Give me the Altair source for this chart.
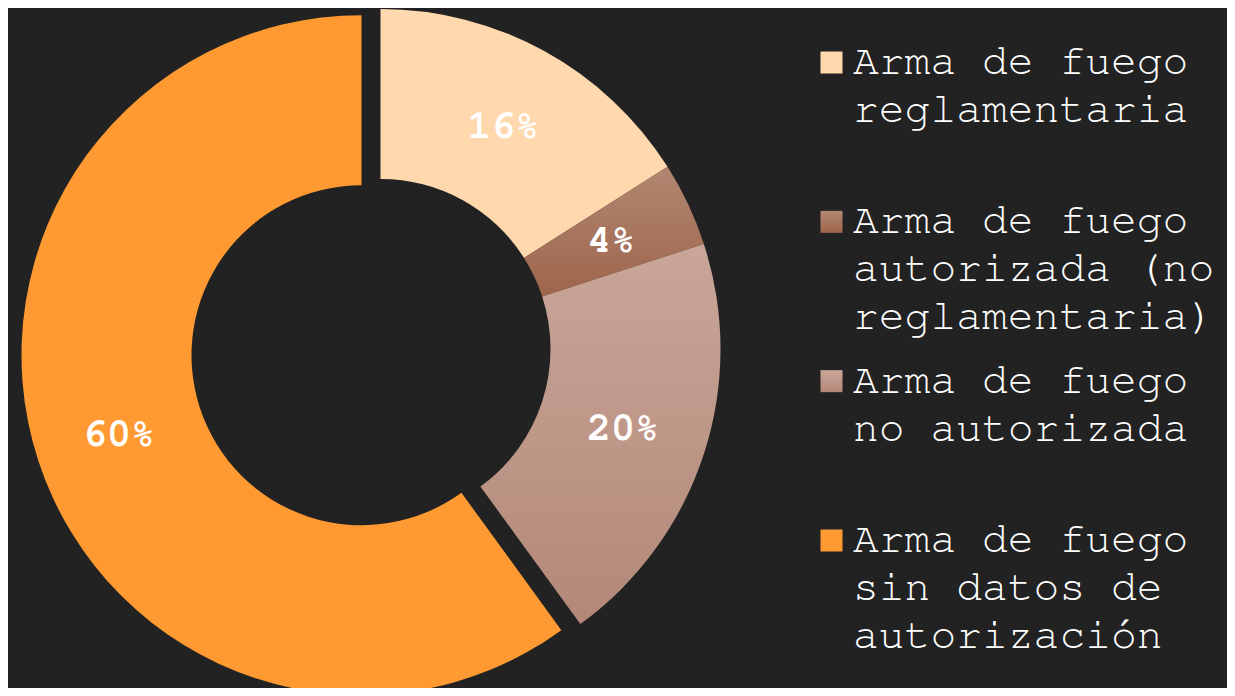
import altair as alt
import pandas as pd

# ---- data ----
categories = [
    "Arma de fuego reglamentaria",
    "Arma de fuego autorizada (no reglamentaria)",
    "Arma de fuego no autorizada",
    "Arma de fuego sin datos de autorización",
]
legend_labels = [
    "Arma de fuego\nreglamentaria",
    "Arma de fuego\nautorizada (no\nreglamentaria)",
    "Arma de fuego\nno autorizada",
    "Arma de fuego\nsin datos de\nautorización",
]
values = [16, 4, 20, 60]
order = [0, 1, 2, 3]

colors = ["#FFD8AD", "#A9765E", "#BF998A", "#FF9A33"]

df = pd.DataFrame({"cat": categories, "label": legend_labels, "value": values, "order": order})

BG = "#222222"
FONT = "'Nimbus Mono PS', 'Nimbus Mono L', FreeMono, 'Courier New', Courier, 'Liberation Mono', monospace"

grad_auth = {
    "gradient": "linear", "x1": 0, "y1": 0, "x2": 0, "y2": 1,
    "stops": [{"offset": 0, "color": "#B28772"}, {"offset": 1, "color": "#9E654B"}],
}
grad_noauth = {
    "gradient": "linear", "x1": 0, "y1": 0, "x2": 0, "y2": 1,
    "stops": [{"offset": 0, "color": "#C9A699"}, {"offset": 1, "color": "#B38878"}],
}

color_enc = alt.Color(
    "cat:N",
    scale=alt.Scale(domain=categories, range=colors),
    legend=None,
    condition=[
        {"test": f"datum.cat === '{categories[1]}'", "value": grad_auth},
        {"test": f"datum.cat === '{categories[2]}'", "value": grad_noauth},
    ],
)

theta_scale = alt.Scale(domain=[0, 100])

base = (
    alt.Chart(df)
    .transform_stack(stack="value", groupby=[], as_=["start", "end"], sort=[alt.SortField("order")])
    .transform_calculate(mid="(datum.start + datum.end) / 2", pct="datum.value + '%'")
)

big = categories[3]
is_big = f"datum.cat === '{big}'"
not_big = f"datum.cat !== '{big}'"

GX, GY = 372.5, 341.0     # center of the three joined slices
EX, EY = 353.5, 347.2     # center of the exploded slice
R_OUT, R_IN = 340, 170

arcs_group = base.transform_filter(not_big).mark_arc(radius=R_OUT, radius2=R_IN).encode(
    theta=alt.Theta("start:Q", scale=theta_scale),
    theta2="end:Q",
    x=alt.value(GX), y=alt.value(GY),
    color=color_enc,
)
arcs_big = base.transform_filter(is_big).mark_arc(radius=R_OUT, radius2=R_IN).encode(
    theta=alt.Theta("start:Q", scale=theta_scale),
    theta2="end:Q",
    x=alt.value(EX), y=alt.value(EY),
    color=color_enc,
)

txt_style = dict(radius=255, font=FONT, fontSize=40, fontWeight="bold",
                 color="#FFFFFF", align="center", baseline="middle")

text_group = base.transform_filter(not_big).mark_text(**txt_style).encode(
    theta=alt.Theta("mid:Q", scale=theta_scale),
    x=alt.value(GX), y=alt.value(GY),
    text="pct:N",
)
text_big = base.transform_filter(is_big).mark_text(**txt_style).encode(
    theta=alt.Theta("mid:Q", scale=theta_scale),
    x=alt.value(EX), y=alt.value(EY),
    text="pct:N",
)

# ---- legend ----
ly = alt.Y("cat:N", scale=alt.Scale(type="point", domain=categories, range=[54.5, 532.5], padding=0),
           axis=None)

leg_sym = base.mark_square(size=484, opacity=1).encode(
    x=alt.value(823.5),
    y=ly,
    color=color_enc,
)
leg_txt = base.mark_text(
    align="left", baseline="top", dy=-22.5, lineBreak="\n", lineHeight=48,
    font=FONT, fontSize=43, color="#FFFFFF",
).encode(
    x=alt.value(845),
    y=ly,
    text="label:N",
)

chart = (
    alt.layer(arcs_group, arcs_big, text_group, text_big, leg_sym, leg_txt)
    .properties(width=1219, height=680, autosize="none", padding=0, background=BG)
    .configure_view(stroke=None)
)

chart.save("out.html", embed_options={"renderer": "svg", "actions": False})
